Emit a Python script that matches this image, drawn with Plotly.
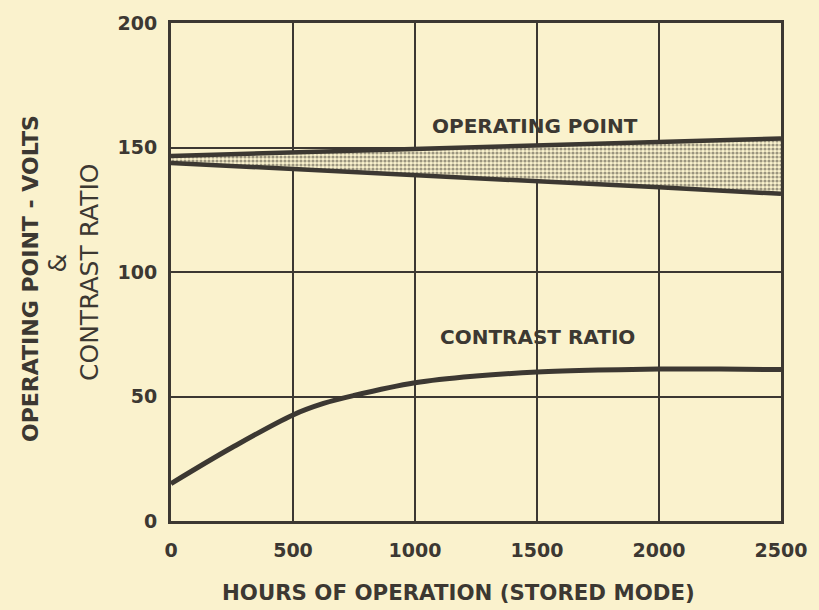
import plotly.graph_objects as go

# ---- data ----
hours_band = [0, 500, 1000, 1500, 2000, 2500]
op_upper = [146.6, 148.0, 149.3, 150.6, 152.1, 153.6]
op_lower = [143.8, 141.4, 139.1, 136.6, 134.0, 131.4]

hours_cr = [0, 250, 500, 625, 750, 1000, 1250, 1500, 1750, 2000, 2250, 2500]
contrast_ratio = [15.0, 29.5, 42.6, 47.2, 50.4, 55.5, 58.2, 59.8, 60.6, 61.0, 61.0, 60.8]

x_ticks = [0, 500, 1000, 1500, 2000, 2500]
x_ticklabels = ["0", "500", "1000", "1500", "2000", "2500"]
y_ticks = [0, 50, 100, 150, 200]
y_ticklabels = ["0", "50", "100", "150", "200"]

BG = "#faf2cd"
INK = "#3c3832"
FONT = "DejaVu Sans"

fig = go.Figure()

# operating point band (stippled)
fig.add_trace(go.Scatter(x=hours_band, y=op_lower, mode="lines",
                         line=dict(color=INK, width=0), showlegend=False, hoverinfo="skip"))
fig.add_trace(go.Scatter(x=hours_band, y=op_upper, mode="lines", fill="tonexty",
                         fillcolor="rgba(0,0,0,0)",
                         fillpattern=dict(shape=".", fgcolor=INK, bgcolor=BG,
                                          size=4, solidity=0.5),
                         line=dict(color=INK, width=0), showlegend=False, hoverinfo="skip"))
fig.add_trace(go.Scatter(x=hours_band, y=op_upper, mode="lines",
                         line=dict(color=INK, width=4.5), showlegend=False))
fig.add_trace(go.Scatter(x=hours_band, y=op_lower, mode="lines",
                         line=dict(color=INK, width=4.5), showlegend=False))

# contrast ratio curve
fig.add_trace(go.Scatter(x=hours_cr, y=contrast_ratio, mode="lines",
                         line=dict(color=INK, width=5, shape="spline", smoothing=1.0),
                         showlegend=False))

fig.add_annotation(x=1490, y=158.7, text="OPERATING POINT", showarrow=False,
                   xanchor="center", yanchor="middle",
                   font=dict(family=FONT, size=20, color=INK, weight="bold"))
fig.add_annotation(x=1500, y=73.7, text="CONTRAST RATIO", showarrow=False,
                   xanchor="center", yanchor="middle",
                   font=dict(family=FONT, size=20, color=INK, weight="bold"))

# y axis title (three rotated lines)
def px_to_paper_x(px):
    return (px - 171) / 621.0

def px_to_paper_y(py):
    return (521 - py) / 499.0

fig.add_annotation(xref="paper", yref="paper", x=px_to_paper_x(28), y=px_to_paper_y(278),
                   text="OPERATING POINT - VOLTS", textangle=-90, showarrow=False,
                   xanchor="center", yanchor="middle",
                   font=dict(family=FONT, size=22, color=INK, weight="bold"))
fig.add_annotation(xref="paper", yref="paper", x=px_to_paper_x(55), y=px_to_paper_y(263),
                   text="&", textangle=-90, showarrow=False,
                   xanchor="center", yanchor="middle",
                   font=dict(family=FONT, size=24, color=INK))
fig.add_annotation(xref="paper", yref="paper", x=px_to_paper_x(88), y=px_to_paper_y(271),
                   text="CONTRAST RATIO", textangle=-90, showarrow=False,
                   xanchor="center", yanchor="middle",
                   font=dict(family=FONT, size=25, color=INK))

# x axis title
fig.add_annotation(xref="paper", yref="paper", x=px_to_paper_x(464), y=px_to_paper_y(593),
                   text="HOURS OF OPERATION (STORED MODE)", showarrow=False,
                   xanchor="center", yanchor="middle",
                   font=dict(family=FONT, size=21.3, color=INK, weight="bold"))

fig.update_xaxes(range=[0, 2500], tickvals=x_ticks, ticktext=x_ticklabels,
                 showgrid=True, gridcolor=INK, gridwidth=2, zeroline=False,
                 showline=True, linecolor=INK, linewidth=3, mirror=True,
                 ticks="", ticklabelstandoff=10,
                 tickfont=dict(family=FONT, size=19, color=INK, weight="bold"))
fig.update_yaxes(range=[0, 200], tickvals=y_ticks, ticktext=y_ticklabels,
                 showgrid=True, gridcolor=INK, gridwidth=2, zeroline=False,
                 showline=True, linecolor=INK, linewidth=3, mirror=True,
                 ticks="", ticklabelstandoff=7,
                 tickfont=dict(family=FONT, size=19, color=INK, weight="bold"))

fig.update_layout(width=819, height=610, paper_bgcolor=BG, plot_bgcolor=BG,
                  margin=dict(l=171, r=27, t=22, b=89), showlegend=False)

fig.write_html("out.html",
               config={"displayModeBar": False},
               post_script="document.body.style.margin='0';"
                           "document.body.style.overflow='hidden';"
                           "document.body.style.background='" + BG + "';")
